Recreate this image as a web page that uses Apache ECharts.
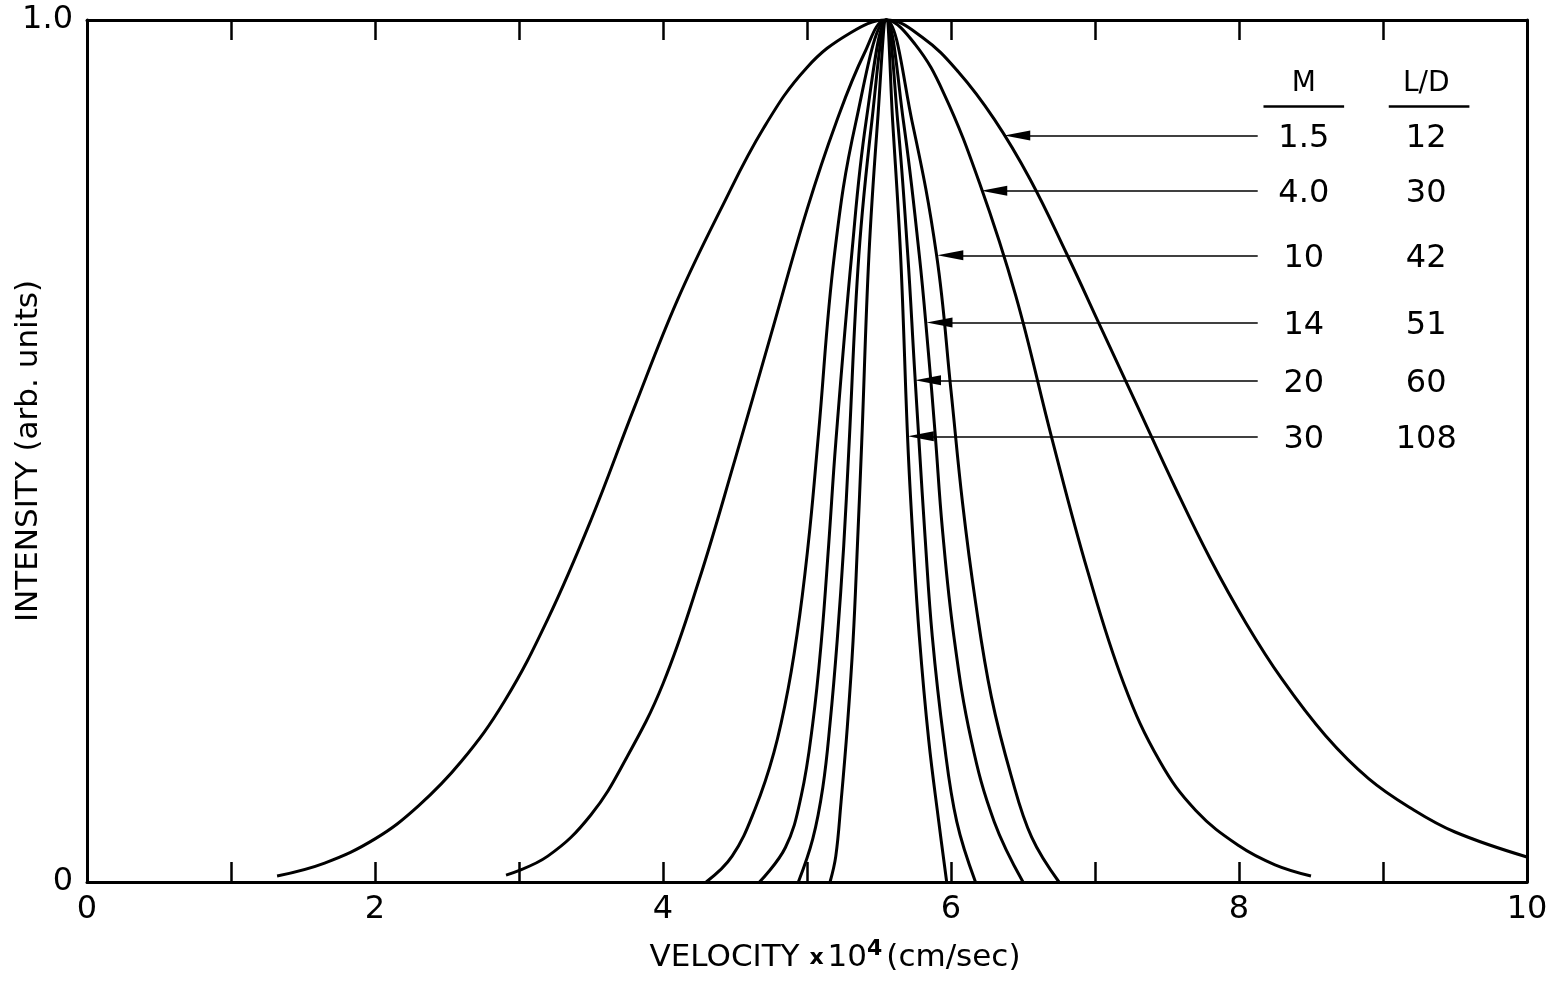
<!DOCTYPE html>
<html><head><meta charset="utf-8">
<script src="https://cdn.jsdelivr.net/npm/echarts@6/dist/echarts.min.js"></script>
<style>html,body{margin:0;padding:0;background:#fff}#c{width:1554px;height:982px}</style>
</head><body><div id="c"></div>
<script>
// ---- data (velocity x10^4 cm/s, intensity arb. units) ----
const curveM1_5 = [[1.32,0.007],[1.65,0.022],[2.0,0.05],[2.3,0.088],[2.6,0.14],[2.9,0.21],[3.2,0.305],[3.5,0.42],[3.8,0.55],[4.1,0.675],[4.4,0.78],[4.7,0.875],[5.0,0.945],[5.3,0.985],[5.55,1.0],[5.8,0.98],[6.05,0.94],[6.3,0.885],[6.55,0.815],[6.8,0.73],[7.05,0.64],[7.3,0.55],[7.55,0.46],[7.8,0.375],[8.05,0.3],[8.3,0.235],[8.6,0.17],[8.9,0.12],[9.2,0.085],[9.5,0.058],[10.0,0.029]];
const curveM4_0 = [[2.91,0.008],[3.2,0.03],[3.5,0.078],[3.75,0.145],[4.0,0.23],[4.25,0.35],[4.5,0.49],[4.75,0.635],[5.0,0.78],[5.2,0.88],[5.4,0.962],[5.55,1.0],[5.75,0.972],[5.95,0.915],[6.2,0.81],[6.45,0.68],[6.7,0.515],[6.95,0.36],[7.2,0.23],[7.45,0.14],[7.7,0.083],[8.0,0.042],[8.25,0.02],[8.5,0.007]];
const curveM10 = [[4.30,0],[4.48,0.03],[4.64,0.085],[4.77,0.15],[4.87,0.225],[4.95,0.31],[5.02,0.41],[5.08,0.52],[5.19,0.727],[5.34,0.882],[5.55,1.0],[5.73,0.882],[5.90,0.727],[6.00,0.57],[6.08,0.44],[6.17,0.325],[6.28,0.215],[6.42,0.122],[6.56,0.052],[6.75,0]];
const curveM14 = [[4.67,0],[4.85,0.04],[4.96,0.1],[5.04,0.184],[5.10,0.28],[5.15,0.39],[5.20,0.51],[5.31,0.727],[5.41,0.882],[5.55,1.0],[5.67,0.882],[5.78,0.727],[5.84,0.62],[5.89,0.52],[5.94,0.41],[6.02,0.285],[6.14,0.165],[6.30,0.07],[6.50,0]];
const curveM20 = [[4.94,0],[5.04,0.05],[5.11,0.11],[5.16,0.184],[5.21,0.281],[5.255,0.39],[5.29,0.5],[5.36,0.727],[5.45,0.882],[5.55,1.0],[5.63,0.882],[5.70,0.727],[5.745,0.6],[5.78,0.505],[5.82,0.4],[5.87,0.285],[5.95,0.165],[6.04,0.07],[6.17,0]];
const curveM30 = [[5.16,0],[5.20,0.03],[5.235,0.09],[5.28,0.18],[5.32,0.28],[5.35,0.39],[5.38,0.51],[5.43,0.727],[5.49,0.882],[5.55,1.0],[5.595,0.882],[5.65,0.727],[5.70,0.51],[5.735,0.4],[5.78,0.285],[5.845,0.165],[5.915,0.07],[5.97,0]];

const mValues   = ['1.5','4.0','10','14','20','30'];
const ldValues  = ['12','30','42','51','60','108'];
const rowIntensity = [0.866,0.802,0.727,0.649,0.582,0.517];
const arrowTipV = [6.37,6.21,5.905,5.83,5.75,5.70];
const arrowTailV = 8.13;
const headers = ['M','L/D'];

const xTickLabels = ['0','','2','','4','','6','','8','','10'];
const yTickLabels = ['0','1.0'];

// ---- layout constants (not data) ----
const FONT = 'DejaVu Sans';
const M_COL_V = 8.45, LD_COL_V = 9.30, HEADER_I = 0.926, RULE_I = 0.9;
const RULES = [[8.17,8.73],[9.04,9.60]];
const HEAD_LEN_V = 13/144;   // arrowhead is centred on the end point: pull end back half a head

const chart = echarts.init(document.getElementById('c'), null, {renderer:'canvas'});
const axisLine = {show:true, onZero:false, lineStyle:{color:'#000', width:3}};
const tick = {show:true, inside:true, length:20, lineStyle:{color:'#000', width:2.5}};

const curves = [curveM1_5, curveM4_0, curveM10, curveM14, curveM20, curveM30];
const curveNames = ['M=1.5','M=4.0','M=10','M=14','M=20','M=30'];

const series = curves.map((d,i)=>({
  name: curveNames[i], type:'line', data:d, smooth:0.4, showSymbol:false, symbol:'none',
  lineStyle:{color:'#000', width:3}, clip:false, silent:true, z:3
}));

const textLabel = (size, dy)=>({show:true, position:'inside', formatter:p=>p.value[2], fontSize:size,
  color:'#000', opacity:1, fontFamily:FONT, offset:[0,dy]});
const hidden = {color:'rgba(0,0,0,0)', opacity:1};

series.push({
  type:'scatter', name:'mcol', symbolSize:1, itemStyle:hidden, silent:true, z:5,
  data: mValues.map((m,i)=>[M_COL_V, rowIntensity[i], m]),
  label:textLabel(32,3),
  markLine:{
    silent:true, animation:false, symbol:'none',
    label:{show:false}, lineStyle:{color:'#000', width:1.6, type:'solid'}, emphasis:{disabled:true},
    data: rowIntensity.map((y,i)=>[
      {coord:[arrowTailV,y], symbol:'none'},
      {coord:[arrowTipV[i]+HEAD_LEN_V,y], symbol:'triangle', symbolSize:[10,26]}
    ])
  }
});
series.push({
  type:'scatter', name:'ldcol', symbolSize:1, itemStyle:hidden, silent:true, z:5,
  data: ldValues.map((m,i)=>[LD_COL_V, rowIntensity[i], m]),
  label:textLabel(32,3)
});
series.push({
  type:'scatter', name:'headers', symbolSize:1, itemStyle:hidden, silent:true, z:5,
  data: headers.map((h,i)=>[i===0?M_COL_V:LD_COL_V, HEADER_I, h]),
  label:textLabel(28,0),
  markLine:{
    silent:true, animation:false, symbol:'none', label:{show:false}, emphasis:{disabled:true},
    lineStyle:{color:'#000', width:2.5, type:'solid'},
    data: RULES.map(r=>[{coord:[r[0],RULE_I]},{coord:[r[1],RULE_I]}])
  }
});

chart.setOption({
  animation:false,
  backgroundColor:'#fff',
  grid:{left:87, right:27, top:20, bottom:100, containLabel:false, outerBoundsMode:'none'},
  xAxis:[
    {type:'value', min:0, max:10, interval:1, position:'bottom', axisLine, axisTick:tick,
     splitLine:{show:false},
     axisLabel:{formatter:v=>xTickLabels[Math.round(v)], fontSize:32, color:'#000', fontFamily:FONT, margin:12},
     name:'{t|VELOCITY }{x|x}{t|10}{s|4}{t|(cm/sec)}', nameLocation:'middle', nameGap:56, nameMoveOverlap:false,
     nameTextStyle:{fontFamily:FONT, color:'#000', padding:[0,0,0,56],
       rich:{t:{fontSize:31, fontFamily:FONT, color:'#000'},
             x:{fontSize:22, fontWeight:'bold', fontFamily:FONT, color:'#000', padding:[0,4,0,0]},
             s:{fontSize:22, fontWeight:'bold', fontFamily:FONT, color:'#000', verticalAlign:'bottom', padding:[0,4,18,0]}}}},
    {type:'value', min:0, max:10, interval:1, position:'top', axisLine, axisTick:tick,
     splitLine:{show:false}, axisLabel:{show:false}}
  ],
  yAxis:[
    {type:'value', min:0, max:1, interval:1, position:'left', axisLine, axisTick:{show:false},
     splitLine:{show:false},
     axisLabel:{formatter:v=>yTickLabels[Math.round(v)], fontSize:32, color:'#000', fontFamily:FONT, margin:14},
     name:'INTENSITY (arb. units)', nameLocation:'middle', nameGap:43, nameMoveOverlap:false,
     nameTextStyle:{fontSize:31, color:'#000', fontFamily:FONT}},
    {type:'value', min:0, max:1, interval:1, position:'right', axisLine, axisTick:{show:false},
     splitLine:{show:false}, axisLabel:{show:false}}
  ],
  series
});
</script></body></html>
